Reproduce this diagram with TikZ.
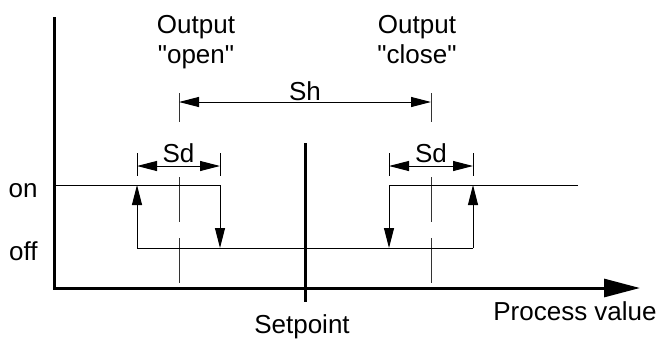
\documentclass[tikz,border=0pt]{standalone}
\usepackage{fontspec}
\setmainfont{Liberation Sans}
\usetikzlibrary{arrows.meta,positioning}
\tikzset{
axisline/.style={line width=1.5pt},
signal/.style={line width=0.5pt},
flip/.style={signal,-{Triangle[length=10pt,width=5pt]}},
dimline/.style={signal,{Triangle[length=10pt,width=5pt]}-{Triangle[length=10pt,width=5pt]}},
centerline/.style={line width=0.5pt,black!80},
lbl/.style={font=\fontsize{13}{15}\selectfont,inner sep=0pt,align=center}
}
\newcommand{\sq}{\textquotedbl}
\begin{document}
\begin{tikzpicture}[x=0.5pt,y=-0.5pt]
\useasboundingbox (0,0) rectangle (659,338);
% axes and setpoint
\draw[axisline,-{Triangle[length=18pt,width=9pt]}] (54,17) |- (640,288);
\draw[axisline] (305,143) -- (305,302);
\node[lbl,anchor=base](setp) at (302,333){Setpoint};
\node[lbl,anchor=base](pv) at (575,320){Process value};
\node[lbl,anchor=base east](on) at (38,197){on};
\node[lbl,anchor=base east](off) at (38,260){off};
% switching points
\foreach \cx in {179,431}
  \draw[centerline] (\cx,93) -- (\cx,122) (\cx,177) -- (\cx,222) (\cx,238) -- (\cx,283);
\node[lbl,anchor=north](open) at (196,15){Output\\\sq open\sq};
\node[lbl,anchor=north](close) at (417,15){Output\\\sq close\sq};
% hysteresis loops
\draw[flip] (54,185) -| (220,248);
\draw[signal] (137,248) -- (473,248);
\draw[flip] (137,248) -- (137,185);
\draw[flip] (578,185) -| (389,248);
\draw[flip] (473,248) -- (473,185);
% dimensions
\foreach \ex in {137,220,389,473}
  \draw[signal] (\ex,153) -- (\ex,176);
\draw[dimline] (137,166) -- node[lbl,above=1.5pt](sdl){Sd} (220,166);
\draw[dimline] (389,166) -- node[lbl,above=1.5pt](sdr){Sd} (473,166);
\draw[dimline] (179,102) -- node[lbl,above=0.5pt](sh){Sh} (431,102);
\end{tikzpicture}
\end{document}
